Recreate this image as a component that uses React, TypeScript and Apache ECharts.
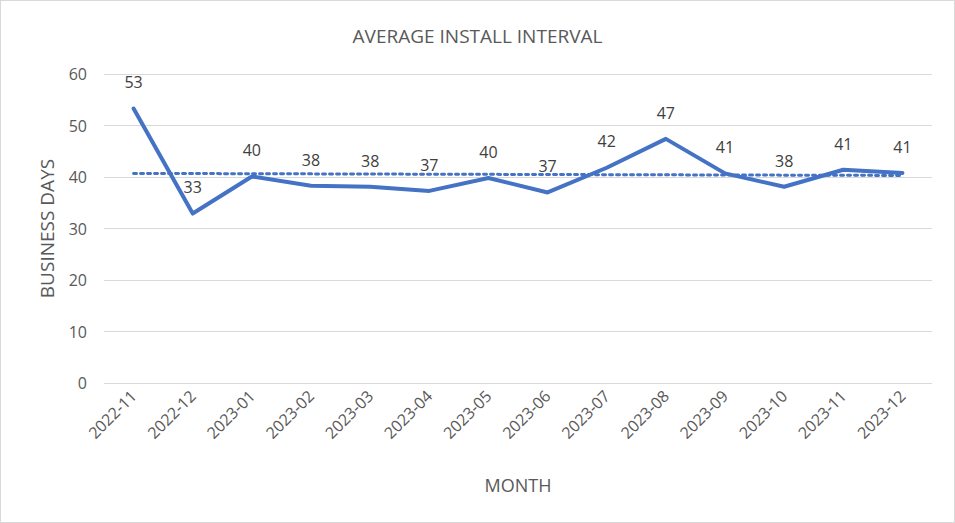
import React, { useEffect, useRef } from "react";
import * as echarts from "echarts";

const months = [
  "2022-11", "2022-12", "2023-01", "2023-02", "2023-03", "2023-04", "2023-05",
  "2023-06", "2023-07", "2023-08", "2023-09", "2023-10", "2023-11", "2023-12",
];
const installDays = [53.3, 32.9, 40.1, 38.3, 38.1, 37.3, 39.8, 37.0, 41.8, 47.4, 40.7, 38.1, 41.4, 40.8];
const trendEnds = [40.7, 40.3];
const yTicks = [0, 10, 20, 30, 40, 50, 60];

const FONT = "'Open Sans', 'Noto Sans', sans-serif";
const TXT = "#595959";
const BLUE = "#4472C4";

export default function App() {
  const ref = useRef<HTMLDivElement>(null);
  useEffect(() => {
    document.body.style.margin = "0";
    if (!ref.current) return;
    const chart = echarts.init(ref.current, undefined, { renderer: "svg" });
    const trendData = months.map((_, i) =>
      i === 0 ? trendEnds[0] : i === months.length - 1 ? trendEnds[1] : null
    );
    chart.setOption({
      animation: false,
      title: {
        text: "AVERAGE INSTALL INTERVAL",
        left: "center",
        top: 20,
        textStyle: { fontFamily: FONT, fontSize: 19, fontWeight: "normal", color: TXT },
      },
      grid: { left: 103, right: 22, top: 73, bottom: 139, containLabel: false },
      xAxis: {
        type: "category",
        data: months,
        boundaryGap: true,
        name: "MONTH",
        nameLocation: "middle",
        nameGap: 93,
        nameTextStyle: { fontFamily: FONT, fontSize: 18, color: TXT },
        axisLine: { show: false },
        axisTick: { show: false },
        axisLabel: { rotate: 45, margin: 10, fontFamily: FONT, fontSize: 16, color: TXT },
      },
      yAxis: {
        type: "value",
        min: yTicks[0],
        max: yTicks[yTicks.length - 1],
        interval: 10,
        name: "BUSINESS DAYS",
        nameLocation: "middle",
        nameGap: 48,
        nameTextStyle: { fontFamily: FONT, fontSize: 19, color: TXT },
        axisLabel: { margin: 17, fontFamily: FONT, fontSize: 16, color: TXT },
        splitLine: { lineStyle: { color: "#d9d9d9", width: 1 } },
        axisLine: { show: false },
        axisTick: { show: false },
      },
      series: [
        {
          type: "line",
          data: installDays,
          symbol: "circle",
          symbolSize: 0.5,
          showSymbol: true,
          showAllSymbol: true,
          itemStyle: { color: BLUE },
          lineStyle: { color: BLUE, width: 4, cap: "round", join: "round" },
          label: {
            show: true,
            position: "top",
            distance: 18,
            fontFamily: FONT,
            fontSize: 16,
            color: "#404040",
            formatter: (p: any) => Math.round(p.value).toString(),
          },
          z: 3,
        },
        {
          type: "line",
          data: trendData,
          connectNulls: true,
          symbol: "none",
          lineStyle: { color: BLUE, width: 3, type: [3, 4], cap: "round" },
          z: 2,
        },
      ],
    });
    return () => chart.dispose();
  }, []);
  return (
    <div
      ref={ref}
      style={{ width: 955, height: 523, boxSizing: "border-box", border: "1px solid #d9d9d9", background: "#fff" }}
    />
  );
}
